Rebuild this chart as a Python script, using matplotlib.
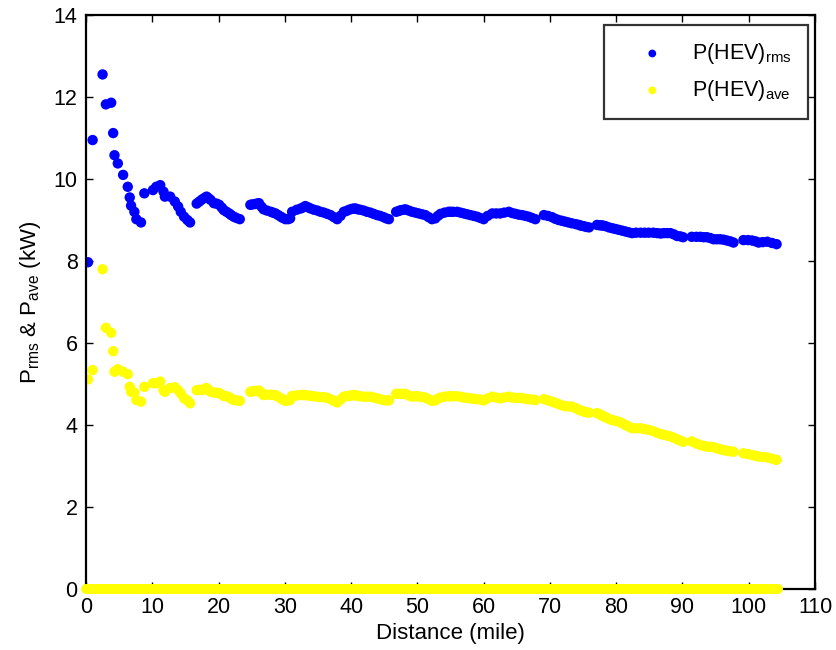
import matplotlib
matplotlib.use("Agg")
import matplotlib.pyplot as plt

plt.rcParams['font.family'] = ['Liberation Sans', 'DejaVu Sans']
plt.rcParams['mathtext.fontset'] = 'custom'
plt.rcParams['mathtext.rm'] = 'Liberation Sans'
plt.rcParams['mathtext.it'] = 'Liberation Sans:italic'

# distance (mile) samples
distance = [0.3, 1.0, 2.5, 3.0, 3.8, 4.1, 4.3, 4.8, 5.6, 6.3, 6.6, 6.8, 7.3, 7.6, 8.3, 8.8,
            10.1, 10.6, 11.2, 11.7, 11.9, 12.7, 13.4, 13.9, 14.3, 14.8, 15.3, 15.7,
            16.7, 17.1, 17.5, 17.9, 18.2, 18.5, 18.8, 19.3, 19.7, 20.1, 20.5, 20.8, 21.2, 21.6, 21.9,
            22.3, 22.7, 23.2,
            24.8, 25.1, 25.5, 25.8, 26.1, 26.5, 26.8, 27.3, 27.9, 28.2, 28.6, 29.0, 29.4, 29.7, 30.1,
            30.5, 30.8, 31.1, 31.8,
            32.4, 32.8, 33.1, 33.5, 33.9, 34.4, 34.9, 35.4, 35.9, 36.4, 36.9, 37.4, 37.9, 38.4, 38.9,
            39.3, 39.7, 40.1, 40.4, 40.7, 41.0, 41.4, 41.9, 42.4, 42.9, 43.4, 43.9, 44.4, 44.9, 45.3, 45.7,
            46.8, 47.2, 47.5, 47.9, 48.2, 48.7, 49.2, 49.7, 50.2, 50.7, 51.2, 51.7, 52.2, 52.7, 53.1,
            53.5, 54.1, 54.7, 55.0, 55.4, 56.0, 56.5, 57.0, 57.5, 58.0, 58.5, 59.0, 59.5, 60.0, 60.6,
            61.3, 61.9, 62.5, 63.1, 63.8, 64.3, 64.8, 65.3, 65.8, 66.3, 66.8, 67.3, 67.8,
            69.1, 69.7, 70.3, 70.8, 71.3, 71.8, 72.3, 72.8, 73.3, 73.9, 74.4, 74.7, 75.1, 75.5, 75.9,
            77.1, 77.5, 77.8, 78.1, 78.4, 78.9, 79.4, 79.9, 80.4, 80.9, 81.4, 81.9, 82.4, 83.0, 83.7,
            84.3, 84.9, 85.6, 86.2, 86.7, 87.2, 87.7, 88.2, 88.7, 89.2, 89.7, 90.1,
            91.4, 92.1, 92.7, 93.2, 93.7, 94.2, 94.7, 95.2, 95.7, 96.2, 96.7, 97.2, 97.7,
            99.2, 99.9, 100.5, 101.0, 101.5, 102.1, 102.8, 103.5, 104.2]

p_rms = [7.97, 10.95, 12.55, 11.82, 11.86, 11.12, 10.58, 10.38, 10.10, 9.81, 9.55, 9.35, 9.20, 9.02, 8.94, 9.65,
         9.73, 9.81, 9.85, 9.69, 9.57, 9.57, 9.45, 9.33, 9.20, 9.08, 9.00, 8.94,
         9.40, 9.45, 9.50, 9.54, 9.57, 9.53, 9.49, 9.41, 9.40, 9.37, 9.30, 9.24, 9.20, 9.16, 9.12,
         9.08, 9.05, 9.02,
         9.37, 9.38, 9.39, 9.40, 9.41, 9.32, 9.26, 9.23, 9.20, 9.18, 9.16, 9.12, 9.08, 9.05, 9.02,
         9.02, 9.04, 9.20, 9.25,
         9.28, 9.31, 9.34, 9.31, 9.28, 9.25, 9.23, 9.20, 9.18, 9.15, 9.12, 9.07, 9.02, 9.10, 9.20,
         9.22, 9.25, 9.27, 9.28, 9.28, 9.26, 9.25, 9.23, 9.20, 9.18, 9.15, 9.12, 9.10, 9.07, 9.04, 9.02,
         9.20, 9.22, 9.24, 9.25, 9.26, 9.23, 9.20, 9.18, 9.16, 9.14, 9.12, 9.07, 9.02, 9.04, 9.10,
         9.15, 9.18, 9.20, 9.20, 9.20, 9.20, 9.18, 9.16, 9.14, 9.12, 9.10, 9.08, 9.05, 9.02, 9.10,
         9.16, 9.16, 9.16, 9.18, 9.20, 9.17, 9.15, 9.13, 9.12, 9.10, 9.08, 9.05, 9.02,
         9.12, 9.10, 9.07, 9.03, 9.00, 8.98, 8.96, 8.94, 8.92, 8.90, 8.88, 8.86, 8.85, 8.83, 8.82,
         8.88, 8.87, 8.87, 8.86, 8.85, 8.82, 8.80, 8.78, 8.76, 8.74, 8.72, 8.70, 8.68, 8.69, 8.69,
         8.69, 8.69, 8.69, 8.68, 8.67, 8.68, 8.68, 8.68, 8.65, 8.61, 8.60, 8.58,
         8.59, 8.59, 8.59, 8.58, 8.58, 8.56, 8.53, 8.53, 8.53, 8.52, 8.50, 8.48, 8.45,
         8.51, 8.51, 8.50, 8.48, 8.45, 8.46, 8.47, 8.44, 8.41]

p_ave = [5.11, 5.34, 7.80, 6.37, 6.25, 5.80, 5.30, 5.36, 5.30, 5.24, 4.93, 4.81, 4.79, 4.61, 4.57, 4.93,
         5.02, 5.02, 5.06, 4.85, 4.81, 4.90, 4.92, 4.85, 4.77, 4.65, 4.60, 4.53,
         4.85, 4.86, 4.85, 4.88, 4.90, 4.85, 4.81, 4.79, 4.79, 4.78, 4.74, 4.71, 4.70, 4.68, 4.64,
         4.61, 4.60, 4.59,
         4.81, 4.82, 4.83, 4.83, 4.84, 4.78, 4.73, 4.74, 4.74, 4.73, 4.73, 4.69, 4.65, 4.62, 4.59,
         4.60, 4.61, 4.71, 4.72,
         4.73, 4.73, 4.73, 4.72, 4.71, 4.70, 4.69, 4.68, 4.68, 4.66, 4.63, 4.59, 4.55, 4.62, 4.69,
         4.70, 4.71, 4.72, 4.73, 4.73, 4.71, 4.70, 4.69, 4.69, 4.69, 4.67, 4.65, 4.63, 4.61, 4.60, 4.60,
         4.76, 4.76, 4.76, 4.76, 4.76, 4.72, 4.69, 4.70, 4.70, 4.68, 4.67, 4.63, 4.59, 4.60, 4.64,
         4.67, 4.69, 4.70, 4.70, 4.70, 4.70, 4.69, 4.67, 4.66, 4.65, 4.64, 4.63, 4.62, 4.60, 4.65,
         4.69, 4.67, 4.65, 4.67, 4.69, 4.67, 4.66, 4.66, 4.66, 4.64, 4.63, 4.62, 4.61,
         4.63, 4.60, 4.57, 4.54, 4.51, 4.48, 4.46, 4.45, 4.45, 4.41, 4.37, 4.35, 4.33, 4.31, 4.30,
         4.29, 4.26, 4.24, 4.21, 4.19, 4.15, 4.12, 4.10, 4.08, 4.04, 4.00, 3.96, 3.92, 3.92, 3.92,
         3.90, 3.88, 3.85, 3.81, 3.78, 3.76, 3.74, 3.72, 3.69, 3.65, 3.62, 3.59,
         3.60, 3.55, 3.51, 3.49, 3.47, 3.47, 3.46, 3.43, 3.41, 3.39, 3.37, 3.36, 3.35,
         3.31, 3.29, 3.27, 3.25, 3.23, 3.22, 3.21, 3.18, 3.15]

# zero-valued samples span the whole trip (drawn as a continuous band of dots)
zero_span = [0.0, 104.4]
zero_vals = [0.0, 0.0]

x_ticks = [0, 10, 20, 30, 40, 50, 60, 70, 80, 90, 100, 110]
y_ticks = [0, 2, 4, 6, 8, 10, 12, 14]

W, H = 836, 650
fig = plt.figure(figsize=(W / 100, H / 100), dpi=100)
ax = fig.add_axes([86 / W, 1 - 589 / H, (815 - 86) / W, (589 - 15) / H])

ms = 56
ax.scatter(distance, p_rms, s=ms, color='#0000ff', edgecolors='none', zorder=3,
           label=r'P(HEV)$_{\mathrm{rms}}$')
ax.scatter(distance, p_ave, s=ms, color='#ffff00', edgecolors='none', zorder=3,
           label=r'P(HEV)$_{\mathrm{ave}}$')
ax.plot(zero_span, zero_vals, color='#ffff00', lw=7.2, solid_capstyle='round', zorder=6,
        clip_on=False)

ax.set_xlim(0, 110)
ax.set_ylim(0, 14)
ax.set_xticks(x_ticks)
ax.set_yticks(y_ticks)
ax.tick_params(direction='in', length=5, width=1, top=True, right=True, labelsize=15.5, pad=6)
for sp in ax.spines.values():
    sp.set_linewidth(1.6)
    sp.set_zorder(5)

ax.set_xlabel('Distance (mile)', fontsize=16, labelpad=3)
ax.set_ylabel(r'P$_{\mathrm{rms}}$ & P$_{\mathrm{ave}}$ (kW)', fontsize=16, labelpad=8)

leg = ax.legend(loc='upper right', bbox_to_anchor=(808 / W, 1 - 25 / H), bbox_transform=fig.transFigure,
                fontsize=15.5, frameon=True, fancybox=False, edgecolor='black', borderpad=0.75,
                handletextpad=0.38, labelspacing=0.55, borderaxespad=0, markerscale=0.75,
                handlelength=2.95)
leg.get_frame().set_linewidth(1.6)

fig.savefig('out.png', dpi=100)
